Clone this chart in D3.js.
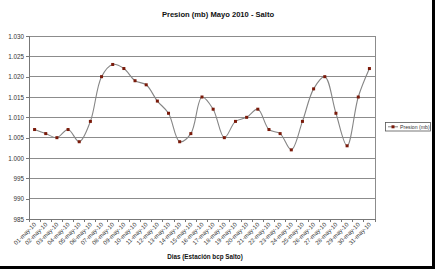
<!DOCTYPE html>
<html><head><meta charset="utf-8">
<script src="https://cdn.jsdelivr.net/npm/d3@7"></script>
<style>body{margin:0;background:#000;}svg{display:block;}</style>
</head><body>
<svg id="c" width="435" height="269"></svg>
<script>
const days = d3.range(1, 32).map(d => (d < 10 ? "0" + d : "" + d) + "-may-10");
const presion = [1007,1006,1005,1007,1004,1009,1020,1023,1022,1019,1018,1014,1011,1004,1006,1015,1012,1005,1009,1010,1012,1007,1006,1002,1009,1017,1020,1011,1003,1015,1022];
const yTicks = [985,990,995,1000,1005,1010,1015,1020,1025,1030];

const svg = d3.select("#c");
svg.append("rect").attr("x",0).attr("y",0).attr("width",435).attr("height",269).attr("fill","#000");
svg.append("rect").attr("x",0).attr("y",0).attr("width",432).attr("height",266).attr("fill","#fff");

const L=29, R=375, T=36, B=219;
const x = d3.scaleBand().domain(days).range([L,R]);
const y = d3.scaleLinear().domain([985,1030]).range([B,T]);
const fmt = v => d3.format(",")(v).replace(",", ".");

// gridlines
svg.append("g").selectAll("line").data(yTicks).join("line")
  .attr("x1",L).attr("x2",R).attr("y1",d=>y(d)).attr("y2",d=>y(d))
  .attr("stroke","#8c8c8c").attr("stroke-width",1).attr("shape-rendering","crispEdges");
// right border
svg.append("line").attr("x1",R).attr("x2",R).attr("y1",T).attr("y2",B)
  .attr("stroke","#8c8c8c").attr("shape-rendering","crispEdges");

// y axis
const ya = svg.append("g").attr("transform",`translate(${L},0)`)
  .call(d3.axisLeft(y).tickValues(yTicks).tickFormat(fmt).tickSize(3).tickPadding(2));
ya.select(".domain").attr("stroke","#777").attr("shape-rendering","crispEdges");
ya.selectAll(".tick line").attr("stroke","#777").attr("shape-rendering","crispEdges");
ya.selectAll("text").attr("font-family","Liberation Sans, Arial, sans-serif").attr("font-size","6.3px").attr("fill","#333");

// x axis
const xa = svg.append("g").attr("transform",`translate(0,${B})`)
  .call(d3.axisBottom(x).tickSize(0).tickPadding(0));
xa.select(".domain").attr("stroke","#777").attr("shape-rendering","crispEdges");
xa.selectAll(".tick line").remove();
// tick marks at boundaries
svg.append("g").selectAll("line").data(d3.range(0,32)).join("line")
  .attr("x1",i=>L+i*x.step()).attr("x2",i=>L+i*x.step())
  .attr("y1",B).attr("y2",B+3).attr("stroke","#777").attr("shape-rendering","crispEdges");
xa.selectAll(".tick text")
  .attr("font-family","Liberation Sans, Arial, sans-serif").attr("font-size","6px").attr("fill","#333")
  .attr("text-anchor","end").attr("dy",0).attr("y",0)
  .attr("transform","translate(2,6) rotate(-45)");

// line
const line = d3.line().x((d,i)=>x(days[i])+x.bandwidth()/2).y(d=>y(d)).curve(d3.curveCatmullRom.alpha(0.5));
svg.append("path").datum(presion).attr("d",line).attr("fill","none")
  .attr("stroke","#858585").attr("stroke-width",1.1);
svg.append("g").selectAll("rect").data(presion).join("rect")
  .attr("x",(d,i)=>x(days[i])+x.bandwidth()/2-1.5).attr("y",d=>y(d)-1.5)
  .attr("width",3).attr("height",3).attr("fill","#7a1a0a");

// title
svg.append("text").attr("x",218).attr("y",17).attr("text-anchor","middle")
  .attr("font-family","Liberation Sans, Arial, sans-serif").attr("font-weight","bold").attr("font-size","7.6px").attr("fill","#111")
  .text("Presion (mb) Mayo 2010 - Salto");
svg.append("text").attr("x",205).attr("y",259).attr("text-anchor","middle")
  .attr("font-family","Liberation Sans, Arial, sans-serif").attr("font-weight","bold").attr("font-size","6.3px").attr("fill","#111")
  .text("Dias (Estación bcp Salto)");

// legend
const lg = svg.append("g");
lg.append("rect").attr("x",385.5).attr("y",122.5).attr("width",45).attr("height",8.5)
  .attr("fill","#fff").attr("stroke","#555").attr("stroke-width",0.8);
lg.append("line").attr("x1",388).attr("x2",398).attr("y1",126.8).attr("y2",126.8).attr("stroke","#858585");
lg.append("rect").attr("x",391.5).attr("y",125.3).attr("width",3).attr("height",3).attr("fill","#7a1a0a");
lg.append("text").attr("x",400).attr("y",128.8)
  .attr("font-family","Liberation Sans, Arial, sans-serif").attr("font-size","5.2px").attr("fill","#333")
  .text("Presion (mb)");
</script>
</body></html>
